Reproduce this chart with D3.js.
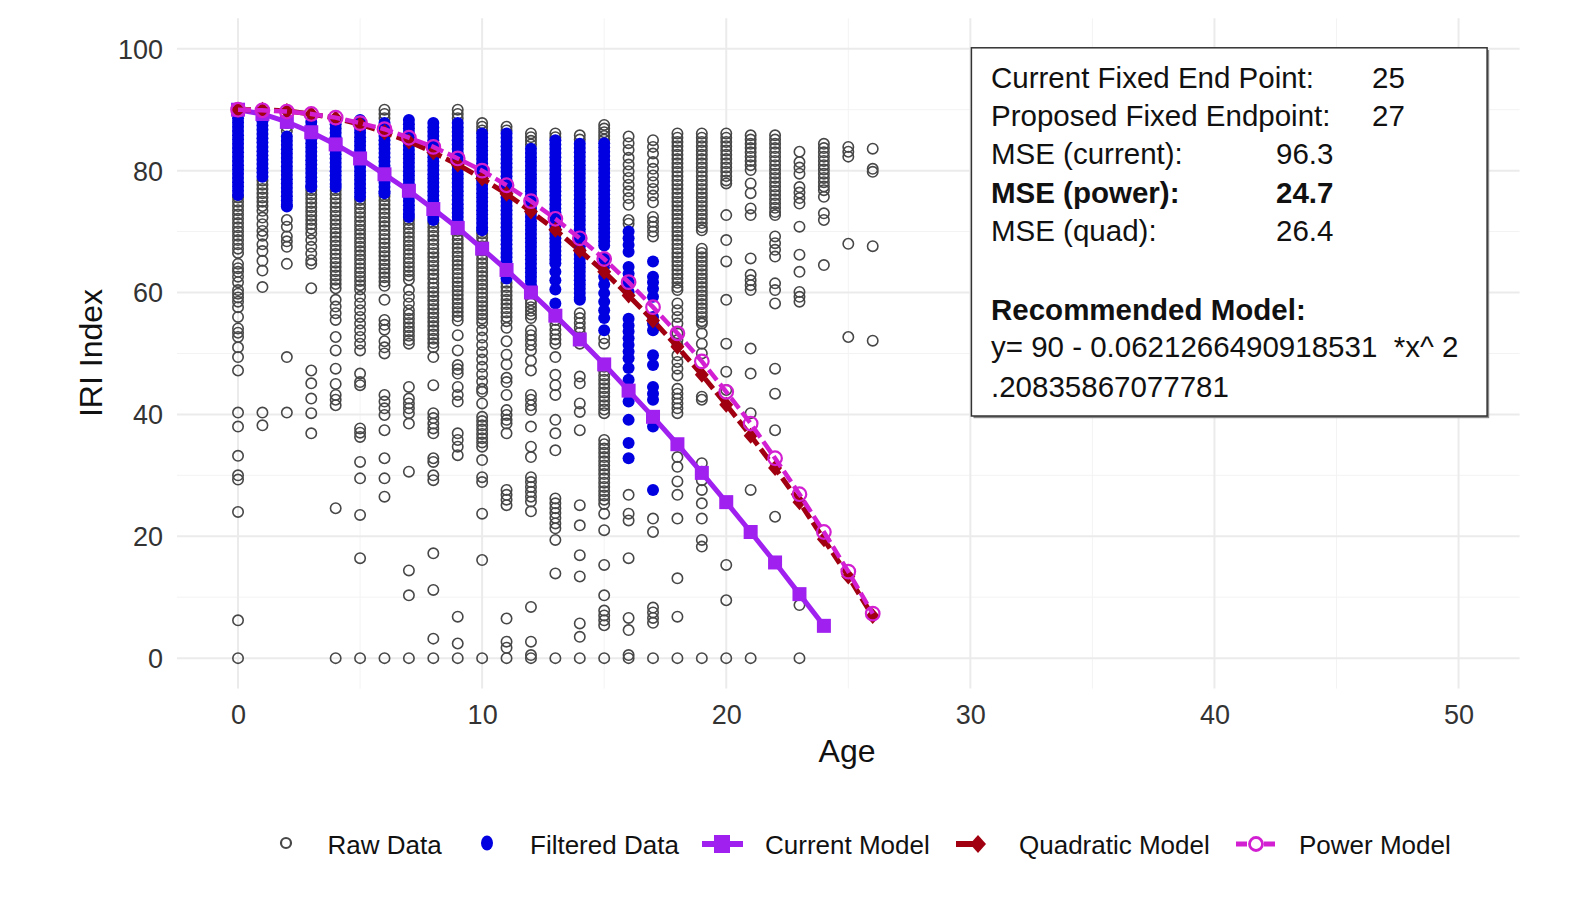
<!DOCTYPE html>
<html lang="en">
<head>
<meta charset="UTF-8">
<title>IRI Index vs Age</title>
<script src="https://cdn.jsdelivr.net/npm/d3@7"></script>
<style>
  body { margin: 0; background: #fff; }
  svg { display: block; font-family: "Liberation Sans", Arial, sans-serif; }
</style>
</head>
<body>
<script>
// ages of the model curves
var modelAges = [0,1,2,3,4,5,6,7,8,9,10,11,12,13,14,15,16,17,18,19,20,21,22,23,24,25,26];

// raw IRI readings, one list per age (0..26)
var rawIRI = [
  [75.6,74.9,74.2,73.5,72.8,72.1,71.4,70.7,70,69.3,68.6,67.9,67.2,66.5,64.7,64,63.4,62.6,61.7,60.4,59.8,59.2,58.5,57.6,56,54.1,53.4,52.7,51,49.4,47.2,40.3,38,33.2,30,29.3,24,6.2,0],
  [78.4,77.7,77,76.3,75.6,74.9,74.2,73.4,72.3,71.2,70.1,69.3,67.9,66.8,65.2,63.6,60.9,40.3,38.2],
  [87.8,87.2,86.5,71.9,70.8,69.2,68.4,67.5,64.7,49.4,40.3],
  [76.8,76.1,75.4,74.7,74,73.3,72.6,71.9,71.2,70.5,69.7,68.6,67.5,66.4,65.3,64.7,60.7,47.2,45.1,42.6,40.2,36.9],
  [76.8,76.1,75.4,74.7,74,73.3,72.6,71.9,71.2,70.5,69.8,69.1,68.4,67.7,67,66.3,65.6,64.9,64.2,63.5,62.8,62.1,61.4,60.7,58.8,57.7,56.6,55.5,52.7,50.5,47.5,45,43.2,42.4,41.5,24.6,0],
  [75.2,74.5,73.8,73.1,72.4,71.7,71,70.3,69.6,68.9,68.2,67.5,66.8,66.1,65.4,64.7,64,63.3,62.6,61.9,61.2,60.5,59.3,58.2,57.1,56,54.9,53.8,52.7,51.6,50.5,46.7,45.3,44.8,37.7,37,36.3,32.2,29.5,23.5,16.4,0],
  [90,89.3,88.6,75.8,75.1,74.4,73.7,73,72.3,71.6,70.9,70.2,69.5,68.8,68.1,67.4,66.7,66,65.3,64.6,63.9,63.2,62.5,61.8,61.1,58.8,55.5,54.7,53.9,52,51,50,43.2,42.1,41,39.9,37.4,32.8,29.5,26.5,0],
  [71.9,71.2,70.5,69.8,69.1,68.4,67.7,67,66.3,65.6,64.9,64.2,63.5,62.8,62.1,60.4,59.3,58.2,57.1,56.4,55.7,55,54.3,53.6,52.9,52.2,51.6,44.5,42.6,41.8,41,40.2,38.5,30.6,14.4,10.3,0],
  [71.4,70.7,70,69.3,68.6,67.9,67.2,66.5,65.8,65.1,64.4,63.7,63,62.3,61.5,60.8,60.1,59.4,58.7,58,57.3,56.6,55.9,55.2,54.5,53.8,53.1,52.4,51.7,51,49.4,44.8,40.2,39.4,38.5,37.7,36.9,32.8,32.2,30,29.2,17.2,11.2,3.2,0],
  [90,89.3,88.6,70.8,70.1,69.4,68.7,68,67.3,66.6,65.9,65.2,64.5,63.8,63.1,62.4,61.7,61,60.3,59.6,58.9,58.2,57.5,56.8,56.1,55.4,53,50.5,48.1,47.4,46.7,44.5,43.2,42.1,36.9,35.8,34.7,33.3,6.8,2.4,0],
  [87.8,87.2,86.6,69.7,69,68.3,67.6,66.9,66.2,65.5,64.8,64.1,63.4,62.7,62,61.3,60.6,59.9,59.2,58.5,57.8,57.1,56.4,55.7,55,53.8,52.6,51.4,50.2,49,47.8,46.6,45.4,44.2,43.7,41.8,39.6,38.9,38.2,37.5,36.8,36.1,35.4,34.7,32.5,29.7,28.9,23.7,16.1,0],
  [87.2,86.6,61.6,60.9,60.2,59.5,58.8,58.1,57.4,56.7,56,55.3,54.2,52,49.8,48.2,46,45.3,43.2,40.7,39.9,39.1,38.5,36.9,27.6,26.8,26,25.1,6.5,2.7,1.7,0],
  [86.1,85.5,84.9,84.3,58.8,58.2,57.6,57,56.4,55.8,53.8,53,52.2,51.4,50.5,48.8,47.2,43.2,42.4,41.5,40.7,38,34.7,33,29.7,28.9,28.1,27.3,26.5,25.7,24.1,8.4,2.7,0.5,0],
  [86.1,85.5,55.5,54.7,53.9,53.1,52.3,51.6,49.4,46.5,44.8,43.2,39.1,36.9,34.1,26.2,25.4,24.6,23.8,23,22.1,21.3,19.4,13.9,0],
  [85.8,85.1,56.6,55.8,55,54.2,53.4,52.6,51.6,46.2,45.1,41.8,40.4,37.4,25.1,21.8,16.9,13.4,5.7,3.5,0],
  [87.5,86.9,86.3,85.7,85.1,52.5,51.6,47.8,47.1,46.4,45.7,45,44.3,43.6,42.9,42.2,41.5,40.8,40.2,35.8,35.1,34.4,33.7,33,32.3,31.6,30.9,30.2,29.5,28.8,28.1,27.4,26.7,26,25.3,23.7,21,15.3,10.3,7.8,7,6.2,5.4,0],
  [85.6,84.5,83.4,82.1,81,79.9,78.8,77.7,76.6,75.5,74.4,71.9,71.3,26.8,23.7,22.6,16.4,6.6,4.6,0.5,0],
  [85,83.9,82.8,81.4,80.3,79.2,78.1,77,75.9,74.8,72.4,71.6,70.8,70,69.2,22.9,20.7,8.3,7.5,6.6,5.8,0],
  [86.1,85.4,84.7,84,83.3,82.6,81.9,81.2,80.5,79.8,79.1,78.4,77.7,77,76.3,75.6,74.9,74.2,73.5,72.8,72.1,71.4,70.7,70,69.3,68.6,67.9,67.2,66.5,65.8,65.1,64.4,63.7,63,62.3,61.6,60.9,60.4,58.2,57.1,56,54.9,53.3,52.2,51.4,49.7,48.6,47.5,46.4,44.2,43.4,42.6,41.8,41,40.2,33,31.4,29,26.8,22.9,13.1,6.8,0],
  [86.1,85.4,84.7,84,83.3,82.6,81.9,81.2,80.5,79.8,79.1,78.4,77.7,77,76.3,75.6,74.9,74.2,73.5,72.8,72.1,71.4,70.7,70.2,67.2,66.5,65.8,65.1,64.4,63.7,63,62.3,61.6,60.9,60.2,59.5,58.8,58.1,57.4,56.7,56,55.3,54.9,53.3,51.6,50,42.9,42.4,32,30.6,29.2,27.6,25.4,22.9,19.4,18.3,0],
  [86.1,85.4,84.7,84,83.3,82.6,81.9,81.2,80.5,79.8,79.1,78.4,77.9,72.7,68.6,65.1,58.8,51.6,47,44,15.3,9.5,0],
  [85.8,85.1,84.4,83.7,83,82.3,81.6,80.9,80.1,77.9,76.3,73.8,72.7,65.6,62.9,62,61.2,60.4,50.8,46.7,40.2,27.6,0],
  [85.8,85.1,84.4,83.7,83,82.3,81.6,80.9,80.2,79.5,78.8,78.1,77.4,76.7,76,75.3,74.6,73.9,73.2,72.7,69.2,68.1,67,65.9,61.5,60.4,58.2,47.5,43.4,37.4,23.2],
  [83.1,81.4,80.5,79.5,77.3,76.4,75.5,74.6,70.8,66.2,63.4,60.1,59.3,58.5,8.7,0],
  [84.4,83.7,83,82.3,81.6,80.9,80.2,79.5,78.8,78.1,77.4,76.8,75.7,73,71.9,64.5],
  [83.9,83.1,82.3,68,52.7],
  [83.6,80.3,79.8,67.6,52.1]
];

// filtered readings, one list per age (0..17)
var filteredIRI = [
  [88.6,87.9,87.2,86.5,85.8,85.1,84.4,83.7,83,82.3,81.6,80.9,80.2,79.5,78.8,78.1,77.4,76.7,76],
  [89.5,88.8,88.1,87.4,86.7,86,85.3,84.6,83.9,83.2,82.5,81.8,81.1,80.4,79.7,79],
  [85.6,84.9,84.2,83.5,82.8,82.1,81.4,80.7,80,79.3,78.6,77.9,77.2,76.5,75.8,75.1,74.4,74.1],
  [88,87.3,86.6,85.9,85.2,84.5,83.8,83.1,82.4,81.7,81,80.3,79.6,78.9,78.2,77.5,77.3],
  [88.3,87.6,86.9,86.2,85.5,84.8,84.1,83.4,82.7,82,81.3,80.6,79.9,79.2,78.5,77.8,77.3],
  [88.3,87.6,86.9,86.2,85.5,84.8,84.1,83.4,82.7,82,81.3,80.6,79.9,79.2,78.5,77.8,77.1,76.4,75.7],
  [87.8,87.1,86.4,85.7,85,84.3,83.6,82.9,82.2,81.5,80.8,80.1,79.4,78.7,78,77.3,76.6,76.3],
  [88.3,87.6,86.9,86.2,85.5,84.8,84.1,83.4,82.7,82,81.3,80.6,79.9,79.2,78.5,77.8,77.1,76.4,75.7,75,74.3,73.6,72.9,72.4],
  [87.8,87.1,86.4,85.7,85,84.3,83.6,82.9,82.2,81.5,80.8,80.1,79.4,78.7,78,77.3,76.6,75.9,75.2,74.5,73.8,73.1,72.4,71.9],
  [87.8,87.1,86.4,85.7,85,84.3,83.6,82.9,82.2,81.5,80.8,80.1,79.4,78.7,78,77.3,76.6,75.9,75.2,74.5,73.8,73.1,72.4,71.7,71.3],
  [86.1,85.4,84.7,84,83.3,82.6,81.9,81.2,80.5,79.8,79.1,78.4,77.7,77,76.3,75.6,74.9,74.2,73.5,72.8,72.1,71.4,70.7,70.2],
  [86.1,85.4,84.7,84,83.3,82.6,81.9,81.2,80.5,79.8,79.1,78.4,77.7,77,76.3,75.6,74.9,74.2,73.5,72.8,72.1,71.4,70.7,70,69.3,68.6,67.9,67.2,66.5,65.8,65.1,64.4,63.7,63,62.3],
  [83.6,82.9,82.2,81.5,80.8,80.1,79.4,78.7,78,77.3,76.6,75.9,75.2,74.5,73.8,73.1,72.4,71.7,71,70.3,69.6,68.9,68.2,67.5,66.8,66.1,65.4,64.7,64,63.3,62.6,61.9,61.2,60.9],
  [85,84.3,83.6,82.9,82.2,81.5,80.8,80.1,79.4,78.7,78,77.3,76.6,75.9,75.2,74.5,73.8,73.1,72.4,71.7,71,70.3,69.6,68.9,68.2,67.5,66.8,66.1,65.4,64.8,63.4,62,60.5,58.2],
  [84.4,83.7,83,82.3,81.6,80.9,80.2,79.5,78.8,78.1,77.4,76.7,76,75.3,74.6,73.9,73.2,72.5,71.8,71.1,70.4,69.7,69,68.3,67.6,66.9,66.2,65.5,64.8,64.1,63.4,62.7,62,61.3,60.6,59.9,59.2,58.8],
  [84.5,83.8,83.1,82.4,81.7,81,80.3,79.6,78.9,78.2,77.5,76.8,76.1,75.4,74.7,74,73.3,72.6,71.9,71.2,70.5,69.8,69.1,68.4,67.7,65.6,64.3,62.6,61.3,59.9,58.5,57.1,55.8,53.8],
  [70,68.9,67.8,66.7,64.2,63.1,61.7,60.1,55.7,54.6,53.6,52.5,51.4,50.3,49.2,47.6,45.7,43.8,42.1,39.1,35.3,32.8],
  [65.1,62.6,61.7,60.6,59.3,56,54.9,53.8,49.7,48.1,44.5,43.4,42.4,38,27.6]
];

// model curves
var currentModel = [90,89.3,88,86.3,84.3,82,79.4,76.7,73.7,70.6,67.2,63.7,60,56.2,52.3,48.2,43.9,39.6,35.1,30.4,25.6,20.7,15.7,10.5,5.3];
var quadModel = [90,90,89.8,89.3,88.6,87.6,86.3,84.8,83,81,78.7,76.2,73.3,70.3,66.9,63.4,59.5,55.4,51.1,46.5,41.6,36.5,31.2,25.6,19.5,13.4,6.9];
var powerModel = [90,89.9,89.7,89.3,88.7,87.8,86.8,85.4,83.9,82,80,77.6,75,72.1,68.9,65.5,61.7,57.6,53.3,48.7,43.7,38.5,32.8,26.9,20.7,14.2,7.3];

// axis ticks
var xTicks = [0,10,20,30,40,50];
var yTicks = [0,20,40,60,80,100];

// text box
var boxRows = [
  { label: "Current Fixed End Point:", value: "25", bold: false, vx: 1372 },
  { label: "Proposed Fixed Endpoint:", value: "27", bold: false, vx: 1372 },
  { label: "MSE (current):", value: "96.3", bold: false, vx: 1276 },
  { label: "MSE (power):", value: "24.7", bold: true, vx: 1276 },
  { label: "MSE (quad):", value: "26.4", bold: false, vx: 1276 }
];
var formulaLines = ["y= 90 - 0.0621266490918531  *x^ 2", ".20835867077781"];

var legendItems = ["Raw Data", "Filtered Data", "Current Model", "Quadratic Model", "Power Model"];

var width = 1595, height = 902;
var colRaw = "#474747", colBlue = "#0000e0", colCurrent = "#a020f0", colQuad = "#a0000f", colPower = "#d21fd2";

var svg = d3.select("body").append("svg")
    .attr("width", width)
    .attr("height", height);

var x = d3.scaleLinear().domain([-2.5, 52.5]).range([177, 1519.6]);
var y = d3.scaleLinear().domain([-5, 105]).range([688.6, 18.3]);

// grid
var grid = svg.append("g");
var xMinor = xTicks.slice(1).map(function (t) { return t - 5; });
var yMinor = yTicks.slice(1).map(function (t) { return t - 10; });
grid.selectAll(".vmin").data(xMinor).enter().append("line")
    .attr("x1", x).attr("x2", x).attr("y1", y.range()[0]).attr("y2", y.range()[1])
    .attr("stroke", "#f3f3f3").attr("stroke-width", 1);
grid.selectAll(".hmin").data(yMinor).enter().append("line")
    .attr("y1", y).attr("y2", y).attr("x1", x.range()[0]).attr("x2", x.range()[1])
    .attr("stroke", "#f3f3f3").attr("stroke-width", 1);
grid.selectAll(".vmaj").data(xTicks).enter().append("line")
    .attr("x1", x).attr("x2", x).attr("y1", y.range()[0]).attr("y2", y.range()[1])
    .attr("stroke", "#ebebeb").attr("stroke-width", 2);
grid.selectAll(".hmaj").data(yTicks).enter().append("line")
    .attr("y1", y).attr("y2", y).attr("x1", x.range()[0]).attr("x2", x.range()[1])
    .attr("stroke", "#ebebeb").attr("stroke-width", 2);

// axes
var xAxis = svg.append("g")
    .attr("transform", "translate(0," + (y(0) + 53) + ")")
    .call(d3.axisBottom(x).tickValues(xTicks).tickSize(0).tickPadding(0));
var yAxis = svg.append("g")
    .attr("transform", "translate(" + (x(0) - 75) + ",0)")
    .call(d3.axisLeft(y).tickValues(yTicks).tickSize(0).tickPadding(0));
[xAxis, yAxis].forEach(function (a) {
    a.select(".domain").remove();
    a.selectAll("text").attr("font-size", "27px").attr("fill", "#333")
        .attr("font-family", "Liberation Sans, Arial, sans-serif");
});
xAxis.selectAll("text").attr("dy", "0.71em").attr("y", -6);
yAxis.selectAll("text").attr("dy", "0.35em");

svg.append("text").attr("x", 847).attr("y", 762)
    .attr("text-anchor", "middle").attr("font-size", "32px").attr("fill", "#111")
    .text("Age");
svg.append("text")
    .attr("transform", "translate(102,353) rotate(-90)")
    .attr("text-anchor", "middle").attr("font-size", "32px").attr("fill", "#111")
    .text("IRI Index");

// raw data
var rawPts = [];
rawIRI.forEach(function (vals, age) {
    vals.forEach(function (v) { rawPts.push({ age: age, v: v }); });
});
svg.append("g").selectAll("circle").data(rawPts).enter().append("circle")
    .attr("cx", function (d) { return x(d.age); })
    .attr("cy", function (d) { return y(d.v); })
    .attr("r", 5.2)
    .attr("fill", "none")
    .attr("stroke", colRaw)
    .attr("stroke-width", 1.6);

// filtered data
var filtPts = [];
filteredIRI.forEach(function (vals, age) {
    vals.forEach(function (v) { filtPts.push({ age: age, v: v }); });
});
svg.append("g").selectAll("circle").data(filtPts).enter().append("circle")
    .attr("cx", function (d) { return x(d.age); })
    .attr("cy", function (d) { return y(d.v); })
    .attr("r", 6)
    .attr("fill", colBlue);

var line = d3.line()
    .x(function (d, i) { return x(modelAges[i]); })
    .y(function (d) { return y(d); });

// current model
svg.append("path").datum(currentModel)
    .attr("d", line).attr("fill", "none")
    .attr("stroke", colCurrent).attr("stroke-width", 5);
svg.append("g").selectAll("rect").data(currentModel).enter().append("rect")
    .attr("x", function (d, i) { return x(modelAges[i]) - 7; })
    .attr("y", function (d) { return y(d) - 7; })
    .attr("width", 14).attr("height", 14)
    .attr("fill", colCurrent);

// quadratic model
svg.append("path").datum(quadModel)
    .attr("d", line).attr("fill", "none")
    .attr("stroke", colQuad).attr("stroke-width", 5)
    .attr("stroke-dasharray", "13,5");
svg.append("g").selectAll("path").data(quadModel).enter().append("path")
    .attr("transform", function (d, i) { return "translate(" + x(modelAges[i]) + "," + y(d) + ")"; })
    .attr("d", "M0,-8L7,0L0,8L-7,0Z")
    .attr("fill", colQuad);

// power model
svg.append("path").datum(powerModel)
    .attr("d", line).attr("fill", "none")
    .attr("stroke", colPower).attr("stroke-width", 4.5)
    .attr("stroke-dasharray", "13,5");
svg.append("g").selectAll("circle").data(powerModel).enter().append("circle")
    .attr("cx", function (d, i) { return x(modelAges[i]); })
    .attr("cy", function (d) { return y(d); })
    .attr("r", 6.8)
    .attr("fill", "none")
    .attr("stroke", colPower).attr("stroke-width", 2.2);

// text box
var box = svg.append("g");
box.append("rect").attr("x", 973.5).attr("y", 50).attr("width", 515.7).attr("height", 368.2)
    .attr("fill", "#8a8a8a");
box.append("rect").attr("x", 971.4).attr("y", 47.8).attr("width", 515.7).attr("height", 368.2)
    .attr("fill", "#fff").attr("stroke", "#333").attr("stroke-width", 1.5);
var rowY = [88, 126, 164, 203, 241];
boxRows.forEach(function (r, i) {
    box.append("text").attr("x", 991).attr("y", rowY[i])
        .attr("font-size", "29.5px").attr("font-weight", r.bold ? "bold" : "normal")
        .attr("fill", "#111").text(r.label);
    box.append("text").attr("x", r.vx).attr("y", rowY[i])
        .attr("font-size", "29.5px").attr("font-weight", r.bold ? "bold" : "normal")
        .attr("fill", "#111").text(r.value);
});
box.append("text").attr("x", 991).attr("y", 320)
    .attr("font-size", "29.5px").attr("font-weight", "bold").attr("fill", "#111")
    .text("Recommended Model:");
formulaLines.forEach(function (t, i) {
    box.append("text").attr("x", 991).attr("y", 357 + i * 40)
        .attr("font-size", "29.5px").attr("fill", "#111")
        .style("white-space", "pre")
        .text(t);
});

// legend
var leg = svg.append("g");
var ly = 845;
var textX = [327.5, 530, 765, 1019, 1299];
leg.append("circle").attr("cx", 286).attr("cy", ly - 2).attr("r", 5)
    .attr("fill", "none").attr("stroke", colRaw).attr("stroke-width", 2.2);
leg.append("ellipse").attr("cx", 487).attr("cy", ly - 2).attr("rx", 6).attr("ry", 7.5)
    .attr("fill", colBlue);
leg.append("line").attr("x1", 702).attr("x2", 743).attr("y1", ly - 1).attr("y2", ly - 1)
    .attr("stroke", colCurrent).attr("stroke-width", 6);
leg.append("rect").attr("x", 714).attr("y", ly - 10).attr("width", 16).attr("height", 18)
    .attr("fill", colCurrent);
leg.append("line").attr("x1", 956).attr("x2", 978).attr("y1", ly - 1).attr("y2", ly - 1)
    .attr("stroke", colQuad).attr("stroke-width", 6);
leg.append("path").attr("transform", "translate(978," + (ly - 1) + ")")
    .attr("d", "M0,-9L8,0L0,9L-8,0Z").attr("fill", colQuad);
leg.append("line").attr("x1", 1236).attr("x2", 1277).attr("y1", ly - 1).attr("y2", ly - 1)
    .attr("stroke", colPower).attr("stroke-width", 5).attr("stroke-dasharray", "11,3");
leg.append("circle").attr("cx", 1256).attr("cy", ly - 1).attr("r", 6.5)
    .attr("fill", "#fff").attr("stroke", colPower).attr("stroke-width", 2.8);
legendItems.forEach(function (t, i) {
    leg.append("text").attr("x", textX[i]).attr("y", ly + 9)
        .attr("font-size", "26px").attr("fill", "#111").text(t);
});
</script>
</body>
</html>
